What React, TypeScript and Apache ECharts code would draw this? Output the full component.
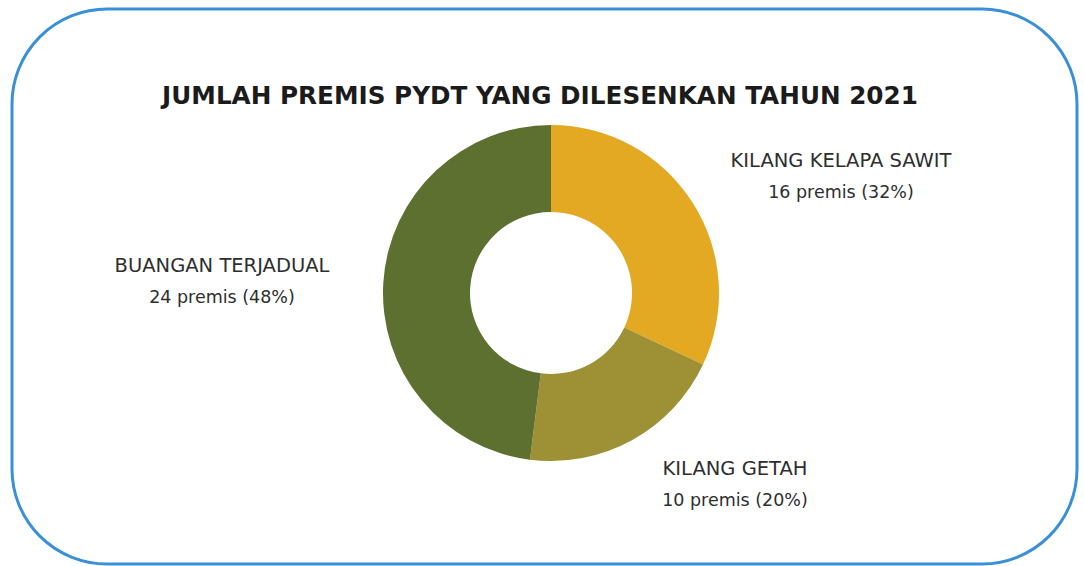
import React, { useEffect, useRef } from "react";
import * as echarts from "echarts";

const titleText = "JUMLAH PREMIS PYDT YANG DILESENKAN TAHUN 2021";
const categories = ["KILANG KELAPA SAWIT", "KILANG GETAH", "BUANGAN TERJADUAL"];
const values = [16, 10, 24];
const colors = ["#E3A923", "#9E9035", "#5E7030"];
const labelPos = [
  [841, 176],
  [735, 484],
  [222, 281],
];

export default function App() {
  const ref = useRef<HTMLDivElement>(null);
  useEffect(() => {
    if (!ref.current) return;
    const chart = echarts.init(ref.current, null, { renderer: "svg" });
    chart.setOption({
      animation: false,
      backgroundColor: "#ffffff",
      title: {
        text: titleText,
        left: 535,
        top: 78,
        textAlign: "center",
        textStyle: {
          fontFamily: "DejaVu Sans",
          fontWeight: "bold",
          fontSize: 24.7,
          color: "#1b1b1b",
        },
      },
      graphic: [
        {
          type: "rect",
          shape: { x: 12, y: 9, width: 1065, height: 555, r: 95 },
          style: { fill: "none", stroke: "#3a90d8", lineWidth: 3 },
          silent: true,
        },
      ],
      series: [
        {
          type: "pie",
          center: [551, 293],
          radius: [81, 168],
          startAngle: 90,
          clockwise: true,
          avoidLabelOverlap: false,
          data: categories.map((c, i) => ({
            name: c,
            value: values[i],
            itemStyle: { color: colors[i] },
          })),
          label: {
            show: true,
            position: "outside",
            formatter: "{a|{b}}\n{c|{c} premis ({d}%)}",
            color: "#2e2e2e",
            align: "center",
            rich: {
              a: { fontFamily: "DejaVu Sans", fontSize: 19.5, lineHeight: 32, color: "#2e2e2e", align: "center" },
              c: { fontFamily: "DejaVu Sans", fontSize: 17.5, lineHeight: 32, color: "#2e2e2e", align: "center" },
            },
          },
          labelLine: { show: false },
          labelLayout: (p: any) => ({
            x: labelPos[p.dataIndex][0],
            y: labelPos[p.dataIndex][1],
            align: "center",
            verticalAlign: "middle",
          }),
        },
      ],
    });
    return () => chart.dispose();
  }, []);
  return (
    <div
      ref={ref}
      style={{ position: "fixed", left: 0, top: 0, width: 1084, height: 566, background: "#fff" }}
    />
  );
}
